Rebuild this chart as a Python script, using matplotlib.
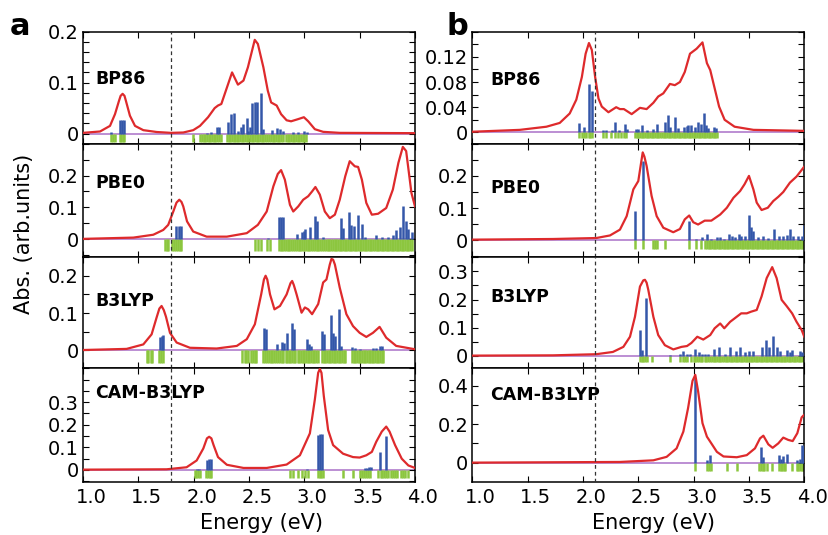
import matplotlib
matplotlib.use("Agg")
import matplotlib.pyplot as plt
import matplotlib.transforms as mtransforms
from matplotlib.ticker import FixedLocator, FixedFormatter, MultipleLocator

plt.rcParams['font.family'] = ['DejaVu Sans']

# ---------------- panel a ----------------
a_bp86_E = [1.00, 1.154, 1.244, 1.289, 1.325, 1.34, 1.358, 1.375, 1.388, 1.424, 1.47, 1.545, 1.665,
            1.795, 1.906, 1.996, 2.057, 2.13, 2.19, 2.22, 2.25, 2.30, 2.347, 2.40, 2.45, 2.49, 2.552,
            2.58, 2.63, 2.67, 2.70, 2.75, 2.79, 2.84, 2.88, 2.94, 2.996, 3.035, 3.095, 3.17, 3.32, 4.00]
a_bp86_abs = [0.0013, 0.004, 0.015, 0.038, 0.064, 0.074, 0.078, 0.074, 0.064, 0.035, 0.015, 0.0066, 0.003,
              0.0013, 0.002, 0.0066, 0.015, 0.032, 0.05, 0.055, 0.058, 0.09, 0.12, 0.096, 0.104, 0.13, 0.184,
              0.176, 0.13, 0.084, 0.061, 0.055, 0.038, 0.026, 0.024, 0.028, 0.032, 0.024, 0.0085, 0.0033, 0.0013, 0.0007]
a_bp86_stick_E = [1.25, 1.33, 1.35, 1.37, 2.12, 2.16, 2.21, 2.225, 2.31, 2.34, 2.36, 2.40, 2.43, 2.45, 2.48,
                  2.495, 2.51, 2.53, 2.55, 2.57, 2.61, 2.63, 2.71, 2.75, 2.78, 2.81, 2.90, 2.94, 3.00, 3.02]
a_bp86_stick_f = [0.002, 0.026, 0.027, 0.027, 0.001, 0.002, 0.012, 0.013, 0.022, 0.038, 0.040, 0.005, 0.012,
                  0.018, 0.030, 0.005, 0.012, 0.060, 0.061, 0.061, 0.080, 0.008, 0.007, 0.010, 0.008, 0.005,
                  0.002, 0.002, 0.005, 0.003]
a_bp86_triplet_E = [1.25, 1.27, 1.29, 1.33, 1.345, 1.36, 1.37, 1.995, 2.06, 2.075, 2.09, 2.105, 2.12, 2.135,
                    2.15, 2.165, 2.18, 2.195, 2.21, 2.23, 2.25, 2.30, 2.315, 2.33, 2.345, 2.36, 2.375, 2.39,
                    2.405, 2.42, 2.435, 2.45, 2.465, 2.48, 2.495, 2.51, 2.525, 2.54, 2.555, 2.57, 2.585, 2.60,
                    2.615, 2.63, 2.645, 2.66, 2.68, 2.70, 2.715, 2.73, 2.745, 2.76, 2.775, 2.79, 2.81, 2.83,
                    2.85, 2.865, 2.88, 2.895, 2.91, 2.925, 2.94, 2.955, 2.97, 2.985, 3.00, 3.015]

a_pbe0_E = [1.00, 1.455, 1.635, 1.725, 1.77, 1.816, 1.845, 1.87, 1.89, 1.906, 1.94, 1.996, 2.117, 2.30,
            2.48, 2.58, 2.66, 2.72, 2.76, 2.79, 2.824, 2.87, 2.90, 2.945, 2.99, 3.035, 3.07, 3.10, 3.14,
            3.185, 3.23, 3.276, 3.32, 3.37, 3.41, 3.456, 3.486, 3.52, 3.56, 3.61, 3.667, 3.74, 3.80, 3.85,
            3.89, 3.92, 3.968, 4.00]
a_pbe0_abs = [0.001, 0.005, 0.014, 0.029, 0.045, 0.087, 0.115, 0.124, 0.117, 0.103, 0.056, 0.024, 0.008,
              0.008, 0.019, 0.045, 0.087, 0.166, 0.205, 0.217, 0.187, 0.108, 0.087, 0.103, 0.124, 0.135,
              0.15, 0.164, 0.14, 0.087, 0.066, 0.077, 0.124, 0.198, 0.245, 0.229, 0.227, 0.187, 0.114,
              0.077, 0.080, 0.098, 0.156, 0.24, 0.29, 0.277, 0.145, 0.103]
a_pbe0_stick_E = [1.84, 1.865, 1.885, 2.675, 2.69, 2.77, 2.79, 2.81, 2.93, 2.975, 2.995, 3.01, 3.05, 3.10,
                  3.117, 3.17, 3.327, 3.35, 3.40, 3.426, 3.446, 3.486, 3.52, 3.55, 3.65, 3.70, 3.76, 3.80,
                  3.83, 3.86, 3.89, 3.92, 3.94, 3.97]
a_pbe0_stick_f = [0.042, 0.042, 0.043, 0.005, 0.002, 0.069, 0.069, 0.069, 0.017, 0.024, 0.027, 0.032, 0.038,
                  0.072, 0.056, 0.008, 0.066, 0.035, 0.085, 0.045, 0.042, 0.077, 0.048, 0.008, 0.013, 0.006,
                  0.008, 0.013, 0.029, 0.038, 0.103, 0.056, 0.032, 0.024]
a_pbe0_triplet_E = [1.74, 1.755, 1.77, 1.80, 1.82, 1.84, 1.86, 1.875, 1.89, 2.555, 2.585, 2.61, 2.66, 2.69,
                    2.77, 2.785, 2.80, 2.815, 2.83, 2.85, 2.865, 2.88, 2.90, 2.92, 2.935, 2.95, 2.965, 2.98,
                    3.00, 3.015, 3.03, 3.045, 3.06, 3.08, 3.095, 3.11, 3.125, 3.14, 3.16, 3.18, 3.195, 3.21,
                    3.225, 3.24, 3.26, 3.275, 3.29, 3.305, 3.32, 3.335, 3.35, 3.365, 3.38, 3.395, 3.41,
                    3.425, 3.44, 3.455, 3.47, 3.485, 3.50, 3.515, 3.53, 3.545, 3.56, 3.575, 3.59, 3.605,
                    3.62, 3.64, 3.655, 3.67, 3.685, 3.70, 3.715, 3.73, 3.745, 3.76, 3.775, 3.79, 3.805,
                    3.82, 3.835, 3.85, 3.865, 3.88, 3.895, 3.91, 3.925, 3.94, 3.955, 3.97]

a_b3lyp_E = [1.00, 1.394, 1.545, 1.62, 1.665, 1.69, 1.71, 1.73, 1.75, 1.786, 1.846, 1.966, 2.207, 2.39,
             2.48, 2.553, 2.61, 2.635, 2.65, 2.665, 2.69, 2.73, 2.78, 2.84, 2.875, 2.89, 2.905, 2.93,
             2.975, 3.005, 3.035, 3.07, 3.125, 3.17, 3.20, 3.23, 3.245, 3.26, 3.276, 3.32, 3.38, 3.44,
             3.50, 3.56, 3.62, 3.68, 3.74, 3.83, 4.00]
a_b3lyp_abs = [0.001, 0.004, 0.016, 0.043, 0.088, 0.112, 0.119, 0.108, 0.09, 0.047, 0.021, 0.007, 0.005,
               0.012, 0.03, 0.07, 0.15, 0.19, 0.2, 0.19, 0.15, 0.11, 0.119, 0.15, 0.18, 0.186, 0.175, 0.15,
               0.101, 0.115, 0.11, 0.097, 0.124, 0.182, 0.19, 0.23, 0.245, 0.243, 0.23, 0.168, 0.097,
               0.065, 0.047, 0.036, 0.047, 0.063, 0.034, 0.012, 0.003]
a_b3lyp_stick_E = [1.695, 1.71, 1.725, 2.553, 2.64, 2.655, 2.75, 2.80, 2.815, 2.84, 2.89, 2.91, 3.02, 3.04,
                   3.06, 3.16, 3.176, 3.24, 3.26, 3.276, 3.31, 3.33, 3.43, 3.456, 3.50, 3.62, 3.65, 3.68, 3.70]
a_b3lyp_stick_f = [0.036, 0.039, 0.040, 0.002, 0.061, 0.058, 0.016, 0.022, 0.020, 0.047, 0.074, 0.056,
                   0.030, 0.016, 0.012, 0.052, 0.045, 0.094, 0.047, 0.038, 0.112, 0.012, 0.009, 0.006,
                   0.005, 0.006, 0.007, 0.013, 0.013]
a_b3lyp_triplet_E = [1.575, 1.59, 1.61, 1.625, 1.69, 1.705, 1.72, 2.44, 2.46, 2.475, 2.49, 2.52, 2.535,
                     2.55, 2.565, 2.63, 2.645, 2.66, 2.68, 2.695, 2.71, 2.73, 2.745, 2.76, 2.78, 2.795, 2.81,
                     2.83, 2.845, 2.86, 2.875, 2.89, 2.905, 2.92, 2.94, 2.955, 2.97, 2.985, 3.00, 3.015, 3.03,
                     3.045, 3.06, 3.075, 3.09, 3.105, 3.12, 3.16, 3.175, 3.19, 3.205, 3.22, 3.235, 3.25,
                     3.265, 3.28, 3.295, 3.31, 3.325, 3.34, 3.355, 3.37, 3.43, 3.445, 3.46, 3.475, 3.49,
                     3.505, 3.52, 3.535, 3.55, 3.565, 3.58, 3.595, 3.61, 3.625, 3.64, 3.655, 3.67, 3.685,
                     3.70, 3.71]

a_cam_E = [1.00, 1.755, 1.936, 2.027, 2.087, 2.12, 2.14, 2.16, 2.18, 2.22, 2.30, 2.45, 2.66, 2.84, 2.96,
           3.05, 3.095, 3.125, 3.14, 3.155, 3.176, 3.215, 3.26, 3.35, 3.44, 3.50, 3.56, 3.61, 3.65, 3.70,
           3.74, 3.77, 3.82, 3.88, 3.94, 4.00]
a_cam_abs = [0.0015, 0.003, 0.012, 0.042, 0.095, 0.14, 0.147, 0.14, 0.11, 0.057, 0.023, 0.009, 0.009,
             0.024, 0.065, 0.162, 0.312, 0.43, 0.447, 0.43, 0.327, 0.177, 0.11, 0.072, 0.057, 0.055,
             0.065, 0.08, 0.125, 0.17, 0.192, 0.17, 0.11, 0.05, 0.02, 0.009]
a_cam_stick_E = [2.027, 2.05, 2.125, 2.14, 2.155, 2.99, 3.025, 3.125, 3.14, 3.16, 3.55, 3.565, 3.585,
                 3.60, 3.68, 3.74]
a_cam_stick_f = [0.005, 0.005, 0.045, 0.048, 0.048, 0.002, 0.005, 0.155, 0.16, 0.16, 0.008, 0.009, 0.012,
                 0.012, 0.08, 0.15]
a_cam_triplet_E = [2.01, 2.025, 2.04, 2.055, 2.115, 2.13, 2.145, 2.16, 2.87, 2.90, 2.94, 2.975, 3.005,
                   3.03, 3.125, 3.14, 3.155, 3.17, 3.35, 3.44, 3.50, 3.52, 3.54, 3.56, 3.575, 3.59, 3.67,
                   3.69, 3.705, 3.72, 3.74, 3.76, 3.78, 3.80, 3.82, 3.84, 3.87, 3.89, 3.91, 3.94]

# ---------------- panel b ----------------
b_bp86_E = [1.00, 1.43, 1.67, 1.79, 1.88, 1.94, 1.99, 2.024, 2.054, 2.08, 2.11, 2.14, 2.17, 2.23, 2.30,
            2.334, 2.37, 2.44, 2.515, 2.575, 2.636, 2.68, 2.726, 2.786, 2.83, 2.876, 2.92, 2.967, 3.027,
            3.08, 3.12, 3.15, 3.19, 3.23, 3.28, 3.37, 3.54, 4.00]
b_bp86_abs = [0.001, 0.004, 0.009, 0.015, 0.03, 0.052, 0.088, 0.125, 0.142, 0.131, 0.088, 0.054, 0.041,
              0.032, 0.04, 0.037, 0.037, 0.029, 0.039, 0.037, 0.047, 0.057, 0.062, 0.077, 0.075, 0.08,
              0.096, 0.125, 0.133, 0.143, 0.11, 0.099, 0.07, 0.041, 0.02, 0.009, 0.004, 0.0024]
b_bp86_stick_E = [1.964, 2.01, 2.05, 2.08, 2.18, 2.21, 2.26, 2.29, 2.33, 2.38, 2.395, 2.48, 2.50, 2.53,
                  2.575, 2.636, 2.67, 2.74, 2.77, 2.786, 2.83, 2.86, 2.91, 2.94, 2.95, 2.98, 3.01, 3.04,
                  3.066, 3.09, 3.11, 3.13, 3.18, 3.20]
b_bp86_stick_f = [0.0145, 0.008, 0.077, 0.065, 0.004, 0.003, 0.004, 0.016, 0.003, 0.013, 0.006, 0.005,
                  0.006, 0.012, 0.003, 0.005, 0.013, 0.017, 0.028, 0.009, 0.024, 0.007, 0.009, 0.01, 0.012,
                  0.012, 0.009, 0.017, 0.014, 0.030, 0.012, 0.007, 0.009, 0.007]
b_bp86_triplet_E = [1.965, 1.99, 2.01, 2.03, 2.05, 2.065, 2.08, 2.18, 2.21, 2.255, 2.29, 2.32, 2.34, 2.37,
                    2.385, 2.47, 2.485, 2.50, 2.515, 2.53, 2.545, 2.56, 2.575, 2.59, 2.605, 2.62, 2.635,
                    2.65, 2.665, 2.68, 2.695, 2.71, 2.73, 2.745, 2.76, 2.775, 2.79, 2.805, 2.82, 2.835,
                    2.85, 2.865, 2.88, 2.895, 2.91, 2.925, 2.94, 2.955, 2.97, 2.985, 3.00, 3.015, 3.03,
                    3.045, 3.06, 3.075, 3.09, 3.105, 3.12, 3.135, 3.15, 3.165, 3.18, 3.195, 3.21]

b_pbe0_E = [1.00, 1.73, 2.12, 2.244, 2.334, 2.395, 2.455, 2.50, 2.525, 2.54, 2.555, 2.575, 2.62, 2.666,
            2.726, 2.816, 2.876, 2.92, 2.96, 2.997, 3.04, 3.10, 3.16, 3.24, 3.30, 3.36, 3.42, 3.46, 3.50,
            3.54, 3.57, 3.614, 3.67, 3.72, 3.765, 3.81, 3.87, 3.93, 4.00]
b_pbe0_abs = [0.002, 0.004, 0.007, 0.015, 0.033, 0.075, 0.158, 0.184, 0.24, 0.273, 0.26, 0.231, 0.138,
              0.075, 0.039, 0.025, 0.035, 0.065, 0.077, 0.056, 0.049, 0.061, 0.061, 0.08, 0.101, 0.132,
              0.153, 0.174, 0.2, 0.158, 0.117, 0.094, 0.101, 0.122, 0.135, 0.15, 0.179, 0.198, 0.229]
b_pbe0_stick_E = [2.47, 2.545, 2.96, 3.02, 3.08, 3.12, 3.16, 3.21, 3.24, 3.27, 3.32, 3.35, 3.37, 3.41,
                  3.43, 3.46, 3.50, 3.52, 3.54, 3.58, 3.63, 3.67, 3.73, 3.77, 3.81, 3.84, 3.87, 3.90, 3.94,
                  3.98, 4.00]
b_pbe0_stick_f = [0.091, 0.247, 0.059, 0.005, 0.01, 0.018, 0.004, 0.01, 0.01, 0.004, 0.021, 0.012, 0.01,
                  0.018, 0.012, 0.012, 0.077, 0.042, 0.028, 0.009, 0.012, 0.007, 0.035, 0.012, 0.012,
                  0.015, 0.035, 0.012, 0.012, 0.012, 0.049]
b_pbe0_triplet_E = [2.47, 2.545, 2.635, 2.65, 2.67, 2.74, 2.96, 3.02, 3.07, 3.10, 3.12, 3.135, 3.15,
                    3.165, 3.18, 3.195, 3.21, 3.225, 3.24, 3.255, 3.27, 3.285, 3.30, 3.315, 3.33, 3.345,
                    3.36, 3.375, 3.39, 3.405, 3.42, 3.435, 3.45, 3.465, 3.48, 3.495, 3.51, 3.525, 3.54,
                    3.555, 3.57, 3.585, 3.60, 3.615, 3.63, 3.645, 3.66, 3.675, 3.69, 3.705, 3.72, 3.735,
                    3.75, 3.765, 3.78, 3.795, 3.81, 3.825, 3.84, 3.855, 3.87, 3.885, 3.90, 3.915, 3.93,
                    3.945, 3.96, 3.975, 3.99]

b_b3lyp_E = [1.00, 1.73, 2.12, 2.27, 2.365, 2.425, 2.47, 2.515, 2.545, 2.56, 2.575, 2.59, 2.636, 2.68,
             2.74, 2.816, 2.89, 2.94, 2.98, 3.033, 3.087, 3.15, 3.19, 3.24, 3.277, 3.33, 3.39, 3.43, 3.48,
             3.52, 3.57, 3.614, 3.66, 3.71, 3.75, 3.795, 3.84, 3.89, 3.93, 3.976, 4.00]
b_b3lyp_abs = [0.001, 0.002, 0.006, 0.014, 0.032, 0.068, 0.139, 0.246, 0.268, 0.27, 0.26, 0.235, 0.139,
               0.074, 0.038, 0.023, 0.032, 0.035, 0.046, 0.068, 0.058, 0.074, 0.098, 0.115, 0.098, 0.121,
               0.139, 0.151, 0.151, 0.157, 0.163, 0.211, 0.276, 0.315, 0.276, 0.199, 0.177, 0.151, 0.121,
               0.092, 0.068]
b_b3lyp_stick_E = [2.515, 2.53, 2.57, 2.79, 2.88, 2.90, 2.94, 2.97, 3.01, 3.05, 3.08, 3.10, 3.13, 3.18,
                   3.23, 3.28, 3.33, 3.38, 3.42, 3.46, 3.50, 3.54, 3.614, 3.65, 3.68, 3.72, 3.75, 3.78,
                   3.84, 3.87, 3.89, 3.96, 3.98]
b_b3lyp_stick_f = [0.092, 0.02, 0.205, 0.002, 0.006, 0.017, 0.008, 0.006, 0.023, 0.014, 0.008, 0.008,
                   0.006, 0.024, 0.032, 0.008, 0.032, 0.018, 0.032, 0.014, 0.018, 0.017, 0.03, 0.056,
                   0.03, 0.07, 0.032, 0.018, 0.02, 0.014, 0.02, 0.018, 0.014]
b_b3lyp_triplet_E = [2.515, 2.53, 2.545, 2.56, 2.575, 2.62, 2.79, 2.88, 2.90, 2.92, 2.94, 2.98, 3.00,
                     3.015, 3.03, 3.05, 3.065, 3.08, 3.10, 3.115, 3.13, 3.15, 3.165, 3.18, 3.195, 3.21,
                     3.225, 3.24, 3.26, 3.275, 3.29, 3.305, 3.32, 3.335, 3.35, 3.365, 3.38, 3.395, 3.41,
                     3.425, 3.44, 3.455, 3.47, 3.485, 3.50, 3.515, 3.53, 3.545, 3.56, 3.575, 3.59, 3.605,
                     3.62, 3.635, 3.65, 3.665, 3.68, 3.695, 3.71, 3.725, 3.74, 3.755, 3.77, 3.785, 3.80,
                     3.815, 3.83, 3.845, 3.86, 3.875, 3.89, 3.905, 3.92, 3.935, 3.95, 3.965, 3.98, 3.995]

b_cam_E = [1.00, 2.334, 2.636, 2.756, 2.846, 2.907, 2.95, 2.99, 3.015, 3.04, 3.08, 3.12, 3.16, 3.21,
           3.27, 3.39, 3.48, 3.554, 3.60, 3.63, 3.675, 3.714, 3.765, 3.81, 3.855, 3.895, 3.937, 3.976, 4.00]
b_cam_abs = [0.0, 0.0035, 0.012, 0.03, 0.074, 0.161, 0.284, 0.425, 0.456, 0.372, 0.205, 0.135, 0.1,
             0.056, 0.032, 0.028, 0.039, 0.074, 0.126, 0.14, 0.095, 0.077, 0.1, 0.13, 0.118, 0.112,
             0.153, 0.235, 0.249]
b_cam_stick_E = [3.015, 3.123, 3.147, 3.61, 3.63, 3.77, 3.79, 3.81, 3.84, 3.93, 3.96, 3.976, 3.99]
b_cam_stick_f = [0.442, 0.012, 0.039, 0.082, 0.03, 0.042, 0.021, 0.035, 0.047, 0.012, 0.021, 0.091, 0.086]
b_cam_triplet_E = [3.015, 3.12, 3.14, 3.16, 3.30, 3.39, 3.59, 3.61, 3.625, 3.64, 3.66, 3.71, 3.77, 3.785,
                   3.80, 3.815, 3.83, 3.89, 3.93, 3.945, 3.96, 3.975, 3.99]

functionals = ["BP86", "PBE0", "B3LYP", "CAM-B3LYP"]
exp_onset = [1.795, 2.11]
energy_ticks = [1.0, 1.5, 2.0, 2.5, 3.0, 3.5, 4.0]
energy_ticklabels = ["1.0", "1.5", "2.0", "2.5", "3.0", "3.5", "4.0"]

RED = "#de2a2c"
BLUE = "#3457a9"
GREEN = "#8cc63f"
PURPLE = "#b07ccc"

W, H = 829, 535
fig = plt.figure(figsize=(W / 100, H / 100), dpi=100)

col_px = [(83.0, 415.0), (472.3, 804.3)]
row_px = [31.7, 143.7, 256.7, 368.3, 481.5]

# per-panel axis setup: (ylim, labelled ticks, tick labels, minor step, triplet depth, label y)
layout = {
    (0, 0): ((-0.02, 0.2), [0, 0.1, 0.2], ["0", "0.1", "0.2"], 0.02, 0.016, 0.575),
    (0, 1): ((-0.055, 0.30), [0, 0.1, 0.2], ["0", "0.1", "0.2"], 0.05, 0.036, 0.65),
    (0, 2): ((-0.048, 0.251), [0, 0.1, 0.2], ["0", "0.1", "0.2"], 0.05, 0.033, 0.60),
    (0, 3): ((-0.051, 0.45), [0, 0.1, 0.2, 0.3], ["0", "0.1", "0.2", "0.3"], 0.05, 0.037, 0.785),
    (1, 0): ((-0.018, 0.16), [0, 0.04, 0.08, 0.12], ["0", "0.04", "0.08", "0.12"], 0.02, 0.0085, 0.57),
    (1, 1): ((-0.051, 0.30), [0, 0.1, 0.2], ["0", "0.1", "0.2"], 0.05, 0.027, 0.61),
    (1, 2): ((-0.044, 0.352), [0, 0.1, 0.2, 0.3], ["0", "0.1", "0.2", "0.3"], 0.05, 0.021, 0.64),
    (1, 3): ((-0.098, 0.49), [0, 0.2, 0.4], ["0", "0.2", "0.4"], 0.1, 0.046, 0.763),
}

spectra = {
    (0, 0): (a_bp86_E, a_bp86_abs, a_bp86_stick_E, a_bp86_stick_f, a_bp86_triplet_E),
    (0, 1): (a_pbe0_E, a_pbe0_abs, a_pbe0_stick_E, a_pbe0_stick_f, a_pbe0_triplet_E),
    (0, 2): (a_b3lyp_E, a_b3lyp_abs, a_b3lyp_stick_E, a_b3lyp_stick_f, a_b3lyp_triplet_E),
    (0, 3): (a_cam_E, a_cam_abs, a_cam_stick_E, a_cam_stick_f, a_cam_triplet_E),
    (1, 0): (b_bp86_E, b_bp86_abs, b_bp86_stick_E, b_bp86_stick_f, b_bp86_triplet_E),
    (1, 1): (b_pbe0_E, b_pbe0_abs, b_pbe0_stick_E, b_pbe0_stick_f, b_pbe0_triplet_E),
    (1, 2): (b_b3lyp_E, b_b3lyp_abs, b_b3lyp_stick_E, b_b3lyp_stick_f, b_b3lyp_triplet_E),
    (1, 3): (b_cam_E, b_cam_abs, b_cam_stick_E, b_cam_stick_f, b_cam_triplet_E),
}

# energy tick labels sit slightly to the right of their ticks
label_shift = mtransforms.ScaledTranslation(8 / 100, 0, fig.dpi_scale_trans)

for (col, row), (E, absorb, sE, sf, tE) in spectra.items():
    ylim, yt, ytl, minor, depth, label_y = layout[(col, row)]
    x0, x1 = col_px[col]
    yt_px, yb_px = row_px[row], row_px[row + 1]
    ax = fig.add_axes([x0 / W, 1 - yb_px / H, (x1 - x0) / W, (yb_px - yt_px) / H])

    ax.axhline(0, color=PURPLE, lw=1.2, zorder=1)
    ax.vlines(tE, -depth, 0, color=GREEN, lw=1.8, zorder=2)
    ax.vlines(sE, 0, sf, color=BLUE, lw=1.8, zorder=3)
    ax.plot(E, absorb, color=RED, lw=1.6, zorder=4, solid_joinstyle="round")
    ax.axvline(exp_onset[col], color="#333333", lw=0.9, ls=(0, (3, 2.5)), zorder=5)

    ax.set_xlim(1.0, 4.0)
    ax.set_ylim(*ylim)
    ax.xaxis.set_major_locator(FixedLocator(energy_ticks))
    ax.yaxis.set_major_locator(FixedLocator(yt))
    ax.yaxis.set_major_formatter(FixedFormatter(ytl))
    ax.yaxis.set_minor_locator(MultipleLocator(minor))
    ax.tick_params(which="both", direction="in", top=True, right=True, length=4, width=0.8)
    ax.tick_params(axis="y", labelsize=14, pad=3)
    for s in ax.spines.values():
        s.set_linewidth(1.1)

    if row == 3:
        ax.set_xticklabels(energy_ticklabels, fontsize=14, ha="center")
        ax.tick_params(axis="x", pad=5)
        for lab in ax.get_xticklabels():
            lab.set_transform(lab.get_transform() + label_shift)
    else:
        ax.tick_params(axis="x", labelbottom=False)

    label_x = 0.036 if col == 0 else 0.053
    ax.text(label_x, label_y, functionals[row], transform=ax.transAxes,
            fontsize=12.5, fontweight="bold", va="center", ha="left")

fig.text(0.012, 1 - 35 / H, "a", fontsize=22, fontweight="bold", va="baseline", ha="left")
fig.text(447 / W, 1 - 35 / H, "b", fontsize=22, fontweight="bold", va="baseline", ha="left")
fig.text(0.029, 1 - 234 / H, "Abs. (arb.units)", rotation=90, fontsize=15, va="center", ha="center")
fig.text(262 / W, 1 - 523 / H, "Energy (eV)", fontsize=15, va="center", ha="center")
fig.text(653 / W, 1 - 523 / H, "Energy (eV)", fontsize=15, va="center", ha="center")

fig.savefig("out.png", dpi=100)
